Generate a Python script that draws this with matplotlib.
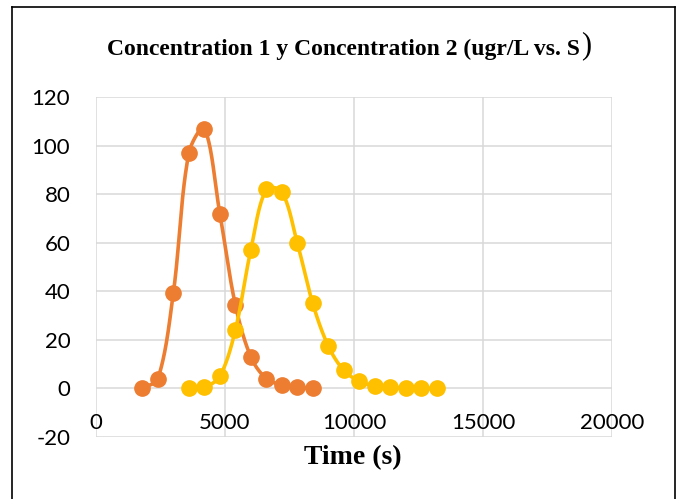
import numpy as np
import matplotlib
matplotlib.use("Agg")
import matplotlib.pyplot as plt
from matplotlib.lines import Line2D

# ---- data ----
time1 = [1800, 2400, 3000, 3600, 4200, 4800, 5400, 6000, 6600, 7200, 7800, 8400]
conc1 = [0, 4, 39.5, 97, 107, 72, 34.5, 13, 4, 1.5, 0.5, 0]
time2 = [3600, 4200, 4800, 5400, 6000, 6600, 7200, 7800, 8400, 9000, 9600,
         10200, 10800, 11400, 12000, 12600, 13200]
conc2 = [0, 0.5, 5, 24, 57, 82, 81, 60, 35, 17.5, 7.5, 3, 1, 0.5, 0, 0, 0]
xticks = [0, 5000, 10000, 15000, 20000]
yticks = [-20, 0, 20, 40, 60, 80, 100, 120]
title = "Concentration 1 y Concentration 2 (ugr/L vs. S"
xlabel = "Time (s)"

C1 = "#ED7D31"
C2 = "#FFC000"


def smooth(ax, x, y, n=40):
    """Excel-like smoothed line: Bezier through the points with
    chord-length limited tangents, computed in display space."""
    pts = ax.transData.transform(np.column_stack([x, y]).astype(float))
    m = len(pts)
    out = []
    for i in range(m - 1):
        p0 = pts[i - 1] if i > 0 else pts[i]
        p1 = pts[i]
        p2 = pts[i + 1]
        p3 = pts[i + 2] if i + 2 < m else pts[i + 1]
        d01 = np.hypot(*(p1 - p0))
        d12 = np.hypot(*(p2 - p1))
        d23 = np.hypot(*(p3 - p2))
        f1 = d12 / (d01 + d12) / 3 if d01 + d12 > 0 else 0
        f2 = d12 / (d12 + d23) / 3 if d12 + d23 > 0 else 0
        c1 = p1 + (p2 - p0) * f1
        c2 = p2 - (p3 - p1) * f2
        t = np.linspace(0, 1, n, endpoint=(i == m - 2))[:, None]
        seg = ((1 - t) ** 3) * p1 + 3 * (1 - t) ** 2 * t * c1 \
            + 3 * (1 - t) * t ** 2 * c2 + t ** 3 * p2
        out.append(seg)
    out = np.concatenate(out)
    d = ax.transData.inverted().transform(out)
    return d[:, 0], d[:, 1]


W, H = 678, 499
fig = plt.figure(figsize=(W / 100, H / 100), dpi=100)
ax = fig.add_axes([96 / W, 1 - 437 / H, (612 - 96) / W, (437 - 97) / H])

ax.set_xlim(0, 20000)
ax.set_ylim(-20, 120)

for s in ax.spines.values():
    s.set_visible(False)

grid_c = "#d9d9d9"
for xv in xticks:
    ax.axvline(xv, color=grid_c, lw=1.1, zorder=1)
for yv in yticks:
    ax.axhline(yv, color=grid_c, lw=1.1, zorder=1)

sx, sy = smooth(ax, time1, conc1)
ax.plot(sx, sy, color=C1, lw=2.6, zorder=3, solid_capstyle="round")
ax.plot(time1, conc1, "o", color=C1, ms=11, zorder=4)
sx, sy = smooth(ax, time2, conc2)
ax.plot(sx, sy, color=C2, lw=2.6, zorder=5, solid_capstyle="round")
ax.plot(time2, conc2, "o", color=C2, ms=11, zorder=6)

ax.set_xticks([])
ax.set_yticks(yticks)
ax.set_yticklabels([str(v) for v in yticks], fontfamily="Lato", fontsize=16)
ax.tick_params(axis="y", length=0, pad=18.5)

for xv in xticks:
    ax.text(xv, -14.3, str(xv), ha="center", va="center",
            fontfamily="Lato", fontsize=16, zorder=2)

t = fig.text(107 / W, 1 - 49 / H, title, ha="left", va="center",
             fontfamily="Liberation Serif", fontweight="bold", fontsize=17)
fig.canvas.draw()
bb = t.get_window_extent()
fig.text((bb.x1 + 1) / W, 1 - 46 / H, ")", ha="left", va="center",
         fontfamily="Liberation Serif", fontsize=22)
fig.text(353 / W, 1 - 458 / H, xlabel, ha="center", va="center",
         fontfamily="Liberation Serif", fontweight="bold", fontsize=20)

# chart border (bottom edge falls outside the image)
bx0, bx1, by1 = 12 / W, 675 / W, 1 - 7 / H
for xs, ys in [([bx0, bx0], [-0.1, by1]), ([bx0, bx1], [by1, by1]),
               ([bx1, bx1], [by1, -0.1])]:
    fig.add_artist(Line2D(xs, ys, color="black", lw=1.2,
                          transform=fig.transFigure))

fig.savefig("out.png", dpi=100)
